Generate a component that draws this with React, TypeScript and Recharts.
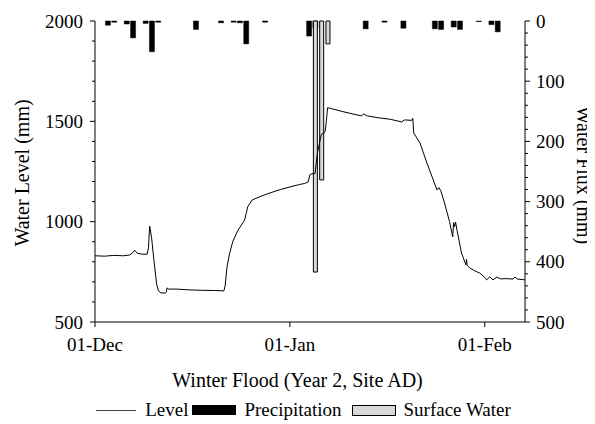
import { ComposedChart, Line, Bar, XAxis, YAxis, Legend } from 'recharts'

const FONT =
  "'Liberation Serif', 'Times New Roman', Times, 'Nimbus Roman', 'Nimbus Roman No9 L', FreeSerif, Tinos, 'Noto Serif', 'DejaVu Serif', serif"

// x axis: days since 01-Dec
const dateTicks = [0, 31, 62]
const dateLabels = ['01-Dec', '01-Jan', '01-Feb']
const levelTicks = [500, 600, 700, 800, 900, 1000, 1100, 1200, 1300, 1400, 1500, 1600, 1700, 1800, 1900, 2000]
const fluxTicks = [
  0, 20, 40, 60, 80, 100, 120, 140, 160, 180, 200, 220, 240, 260, 280, 300, 320, 340, 360, 380, 400, 420, 440,
  460, 480, 500,
]

// daily precipitation (mm)
const precipDays = [2, 3, 5, 6, 8, 9, 10, 16, 20, 22, 23, 24, 27, 34, 35, 43, 46, 49, 54, 55, 57, 58, 61, 63, 64]
const precipMm = [7, 2, 5, 28, 4, 51, 2, 14, 3, 2, 3, 38, 2, 25, 12, 13, 2, 12, 13, 14, 10, 14, 1, 6, 18]

// surface water inflow (mm)
const surfaceDays = [35, 36, 37]
const surfaceMm = [417, 264, 38]

// water level (mm): [day, level]
const levelPoints: [number, number][] = [
  [0, 830], [1.5, 828], [3, 832], [4.5, 830], [5.5, 834], [6.0, 845], [6.3, 858], [6.7, 843], [7.5, 838],
  [8.3, 838], [8.5, 870], [8.7, 978], [9.0, 920], [9.4, 800], [9.8, 690], [10.1, 655], [10.5, 645],
  [11.2, 644], [11.35, 650], [11.45, 670], [11.7, 664], [13, 664], [15, 660], [17, 658], [19, 657],
  [20.5, 655], [20.7, 680], [21.0, 775], [21.4, 840], [21.9, 900], [22.7, 955], [23.8, 1008], [24.0, 1035],
  [24.3, 1075], [25.0, 1108], [26.5, 1128], [28, 1145], [29.5, 1160], [31, 1173], [32.5, 1185],
  [33.3, 1190], [33.9, 1198], [34.2, 1235], [34.5, 1238], [35.0, 1240], [35.4, 1345], [35.8, 1405],
  [36.0, 1435], [36.3, 1440], [36.6, 1448], [36.8, 1500], [37.0, 1568], [38.0, 1560], [39.6, 1547],
  [41.0, 1537], [42.4, 1527], [42.7, 1537], [43.2, 1528], [45, 1518], [47, 1510], [48.8, 1497],
  [49.2, 1507], [50.4, 1505], [50.55, 1515], [50.7, 1442], [51.7, 1392], [52.8, 1292], [53.9, 1200],
  [54.4, 1158], [54.7, 1170], [55.0, 1155], [55.6, 1093], [56.4, 1000], [56.9, 924], [57.05, 995],
  [57.2, 975], [57.35, 998], [57.6, 955], [58.3, 844], [59.0, 785], [59.1, 812], [59.2, 782], [59.6, 770],
  [60.4, 755], [61.2, 744], [62.0, 722], [62.3, 710], [62.8, 725], [63.3, 710], [63.9, 724], [64.5, 715],
  [65.5, 716], [66.5, 714], [66.8, 724], [67.2, 714], [68.4, 710],
]

const levelData = levelPoints.map(([day, level]) => ({ day, level }))

const barDays = Array.from(new Set([...precipDays, ...surfaceDays])).sort((a, b) => a - b)
const barData = barDays.map((day) => {
  const p = precipDays.indexOf(day)
  const s = surfaceDays.indexOf(day)
  return {
    day,
    precip: p >= 0 ? precipMm[p] : undefined,
    surface: s >= 0 ? surfaceMm[s] : undefined,
  }
})

const DOMAIN: [number, number] = [0, 68.4]

const DateTick = (props: any) => {
  const { x, y, payload } = props
  const label = dateLabels[dateTicks.indexOf(payload.value)]
  return (
    <g>
      <line x1={x} x2={x} y1={y} y2={y + 5} stroke="#000" />
      <text x={x} y={y + 22} textAnchor="middle" dominantBaseline="central" fontSize={19} fontFamily={FONT} fill="#000">
        {label}
      </text>
    </g>
  )
}

const LevelTick = (props: any) => {
  const { x, y, payload } = props
  const major = payload.value % 500 === 0
  return (
    <g>
      <line x1={x - (major ? 5 : 3)} x2={x} y1={y} y2={y} stroke="#000" />
      {major && (
        <text x={x - 12} y={y} textAnchor="end" dominantBaseline="central" fontSize={19} fontFamily={FONT} fill="#000">
          {payload.value}
        </text>
      )}
    </g>
  )
}

const FluxTick = (props: any) => {
  const { x, y, payload } = props
  const major = payload.value % 100 === 0
  return (
    <g>
      <line x1={x} x2={x + (major ? 5 : 3)} y1={y} y2={y} stroke="#000" />
      {major && (
        <text x={x + 11} y={y} textAnchor="start" dominantBaseline="central" fontSize={19} fontFamily={FONT} fill="#000">
          {payload.value}
        </text>
      )}
    </g>
  )
}

// fixed-position axis title; prop names kept apart from the ones recharts injects
const AxisTitle = ({ px, py, rot, text }: { px: number; py: number; rot: number; text: string }) => (
  <text
    x={px}
    y={py}
    transform={`rotate(${rot}, ${px}, ${py})`}
    textAnchor="middle"
    dominantBaseline="central"
    fontSize={20}
    fontFamily={FONT}
    fill="#000"
  >
    {text}
  </text>
)

const renderLegend = () => (
  <div
    style={{
      display: 'flex',
      justifyContent: 'center',
      alignItems: 'center',
      height: 24,
      fontFamily: FONT,
      fontSize: 19,
      color: '#000',
      paddingLeft: 4,
    }}
  >
    <span style={{ display: 'inline-block', width: 40, height: 0, borderTop: '1px solid #444', marginRight: 9 }} />
    <span>Level</span>
    <span style={{ display: 'inline-block', width: 44, height: 10, background: '#000', margin: '0 8px 0 4px' }} />
    <span>Precipitation</span>
    <span
      style={{
        display: 'inline-block',
        width: 42,
        height: 9,
        background: '#d9d9d9',
        border: '1px solid #000',
        margin: '0 8px 0 10px',
      }}
    />
    <span>Surface Water</span>
  </div>
)

export default function App() {
  return (
    <ComposedChart
      width={587}
      height={414}
      data={barData}
      margin={{ top: 13, right: 0, bottom: 0, left: 0 }}
      barGap={-4.5}
      style={{ fontFamily: FONT }}
    >
      <XAxis
        xAxisId="date"
        dataKey="day"
        type="number"
        domain={DOMAIN}
        ticks={dateTicks}
        interval={0}
        allowDataOverflow
        height={76}
        tickSize={0}
        tickMargin={0}
        tickLine={false}
        tick={(p: any) => <DateTick {...p} />}
        axisLine={{ stroke: '#000' }}
        label={<AxisTitle px={289.5} py={372} rot={0} text="Winter Flood (Year 2, Site AD)" />}
      />
      <XAxis
        xAxisId="bars"
        dataKey="day"
        type="number"
        orientation="top"
        domain={DOMAIN}
        allowDataOverflow
        height={0}
        tick={false}
        tickLine={false}
        axisLine={{ stroke: '#000' }}
      />
      <YAxis
        yAxisId="level"
        domain={[500, 2000]}
        ticks={levelTicks}
        interval={0}
        width={87}
        tickSize={0}
        tickMargin={0}
        tickLine={false}
        tick={(p: any) => <LevelTick {...p} />}
        axisLine={{ stroke: '#000' }}
        label={<AxisTitle px={14} py={165} rot={-90} text="Water Level (mm)" />}
      />
      <YAxis
        yAxisId="flux"
        orientation="right"
        reversed
        domain={[0, 500]}
        ticks={fluxTicks}
        interval={0}
        width={70}
        tickSize={0}
        tickMargin={0}
        tickLine={false}
        tick={(p: any) => <FluxTick {...p} />}
        axisLine={{ stroke: '#000' }}
        label={<AxisTitle px={576} py={167} rot={90} text="Water Flux (mm)" />}
      />
      <Bar
        xAxisId="bars"
        yAxisId="flux"
        dataKey="precip"
        name="Precipitation"
        fill="#000"
        stroke="#000"
        strokeWidth={0.5}
        barSize={5}
        isAnimationActive={false}
      />
      <Bar
        xAxisId="bars"
        yAxisId="flux"
        dataKey="surface"
        name="Surface Water"
        fill="#d9d9d9"
        stroke="#000"
        strokeWidth={1}
        barSize={4}
        isAnimationActive={false}
      />
      <Line
        xAxisId="date"
        yAxisId="level"
        data={levelData}
        dataKey="level"
        name="Level"
        type="linear"
        dot={false}
        stroke="#000"
        strokeWidth={1}
        isAnimationActive={false}
      />
      <Legend verticalAlign="bottom" content={renderLegend} />
    </ComposedChart>
  )
}
